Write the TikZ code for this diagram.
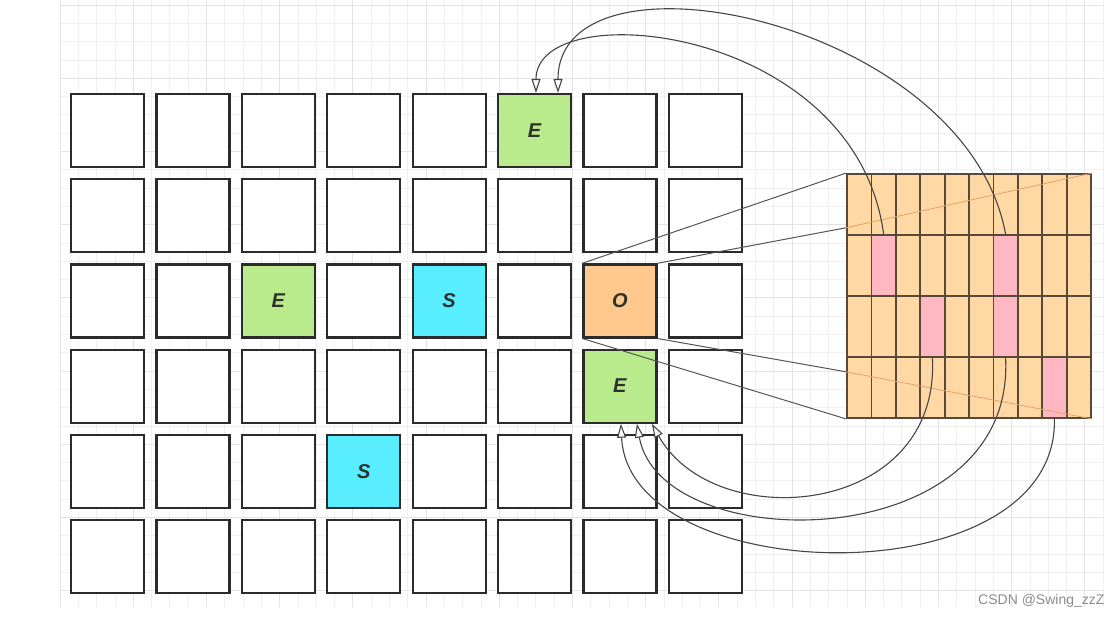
\documentclass[tikz,border=0pt]{standalone}
\usepackage{fontspec}
\setmainfont{Liberation Sans}
\usetikzlibrary{arrows.meta,calc}

\definecolor{cellline}{RGB}{43,43,43}
\definecolor{txt}{RGB}{45,50,45}
\definecolor{egreen}{RGB}{185,235,140}
\definecolor{scyan}{RGB}{88,238,255}
\definecolor{oorange}{RGB}{255,200,140}
\definecolor{peach}{RGB}{255,216,163}
\definecolor{hitpink}{RGB}{255,184,194}
\definecolor{slotline}{RGB}{88,72,58}
\definecolor{linkgray}{RGB}{70,70,70}
\definecolor{raygray}{RGB}{85,85,85}
\definecolor{faintorange}{RGB}{232,160,105}
\definecolor{gridminor}{RGB}{240,240,240}
\definecolor{gridmajor}{RGB}{228,228,228}
\definecolor{wm}{RGB}{140,140,140}

\begin{document}
\begin{tikzpicture}[
    x=1pt, y=-1pt,
    cell/.style={
        rectangle,
        draw=cellline,
        line width=2.2pt,
        fill=white,
        minimum size=73pt,
        inner sep=0pt,
        text=txt,
        font=\fontsize{20}{20}\selectfont\bfseries\itshape
    },
    slot/.style={
        rectangle,
        draw=slotline,
        line width=1.8pt,
        fill=peach,
        minimum width=24.4pt,
        minimum height=61pt,
        inner sep=0pt
    },
    hit/.style={
        slot,
        fill=hitpink
    },
    link/.style={
        draw=linkgray,
        line width=1.1pt,
        -{Triangle[length=14pt, width=9pt, fill=white]}
    },
    ray/.style={
        draw=raygray,
        line width=1pt
    },
    faint/.style={
        draw=faintorange,
        line width=0.8pt
    },
    minor/.style={draw=gridminor, line width=0.8pt},
    major/.style={draw=gridmajor, line width=1pt}
]

    \useasboundingbox (0,0) rectangle (1115,616);

    % Background grid
    \foreach \i in {0,...,57}
        \draw[minor] (60+18.3*\i, 0) -- (60+18.3*\i, 607);
    \foreach \k in {0,...,32}
        \draw[minor] (60, 5+18.3*\k) -- (1103, 5+18.3*\k);
    \foreach \i in {0,4,...,56}
        \draw[major] (60+18.3*\i, 0) -- (60+18.3*\i, 607);
    \foreach \k in {0,4,...,32}
        \draw[major] (60, 5+18.3*\k) -- (1103, 5+18.3*\k);

    % Board
    \foreach \r in {0,...,5}
        \foreach \c in {0,...,7}
            \node [cell] (c-\r-\c) at (107.5+85.4*\c, 130.5+85.2*\r) {};

    \node [cell, fill=egreen] (e1) at (c-0-5) {E};
    \node [cell, fill=egreen] (e2) at (c-2-2) {E};
    \node [cell, fill=scyan] (s1) at (c-2-4) {S};
    \node [cell, fill=oorange] (o) at (c-2-6) {O};
    \node [cell, fill=egreen] (e3) at (c-3-6) {E};
    \node [cell, fill=scyan] (s2) at (c-4-3) {S};

    % Bit table
    \foreach \r in {0,...,3}
        \foreach \c in {0,...,9}
            \node [slot] (b-\r-\c) at (859.2+24.4*\c, 204.5+61*\r) {};

    \node [hit] (h1) at (b-1-1) {};
    \node [hit] (h2) at (b-1-6) {};
    \node [hit] (h3) at (b-2-3) {};
    \node [hit] (h4) at (b-2-6) {};
    \node [hit] (h5) at (b-3-8) {};

    % Rays
    \coordinate (up) at ($(b-0-0.north west)!0.87!(b-0-0.south west)$);
    \coordinate (dn) at ($(b-3-0.north west)!0.25!(b-3-0.south west)$);
    \draw [ray] (o.north west) -- (b-0-0.north west);
    \draw [ray] (o.north east) -- (up);
    \draw [faint] (up) -- (b-0-9.north east);
    \draw [ray] (o.south west) -- (b-3-0.south west);
    \draw [ray] (o.south east) -- (dn);
    \draw [faint] (dn) -- (b-3-9.south east);

    % Links
    \draw [link] (h1.north) .. controls +(-28,-210) and +(0,-99) .. ([xshift=1.5pt]e1.north);
    \draw [link] (h2.north) .. controls +(-40,-215) and +(0,-155) .. ([xshift=23.5pt]e1.north);
    \draw [link] (h3.south) .. controls +(8,160) and +(62,112) .. ([xshift=32pt]e3.south);
    \draw [link] (h4.south) .. controls +(10,200) and +(24,135) .. ([xshift=17pt]e3.south);
    \draw [link] (h5.south) .. controls +(4,180) and +(8,166) .. ([xshift=1pt]e3.south);

    % Watermark
    \node [anchor=base west, inner sep=0pt, text=wm, font=\fontsize{14}{14}\selectfont] (mark) at (978,604) {CSDN @Swing\_zzZ};

\end{tikzpicture}
\end{document}
